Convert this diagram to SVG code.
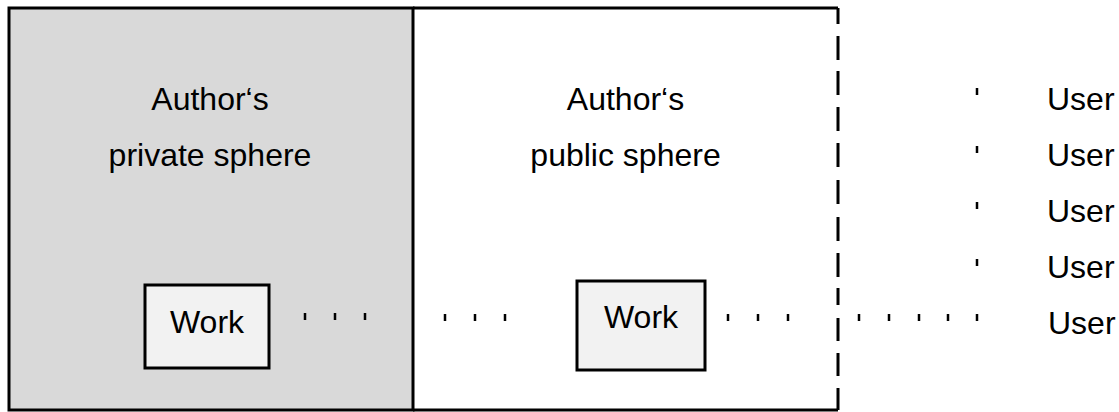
<svg xmlns="http://www.w3.org/2000/svg" width="1119" height="412" viewBox="0 0 1119 412">
<style>
.t{font-family:"Liberation Sans",Arial,sans-serif;font-size:32px;fill:#000}
.m{text-anchor:middle}
.edge{stroke:#000;stroke-width:3;fill:none}
.box{stroke:#000;stroke-width:3;fill:#f2f2f2}
.tick{stroke:#000;stroke-width:2.5;fill:none}
</style>
<rect width="1119" height="412" fill="#fff"/>
<g id="private-sphere">
<rect x="9" y="8" width="404" height="402" fill="#d9d9d9" stroke="#000" stroke-width="3"/>
<text class="t m" x="210" y="110">Author‘s</text>
<text class="t m" x="210" y="166">private sphere</text>
</g>
<g id="public-sphere">
<path class="edge" d="M413 8 H838 M413 410 H838"/>
<path class="edge" d="M838 8 V24 M838 36 V60 M838 71 V95 M838 107 V131 M838 143 V167 M838 180 V204 M838 217 V241 M838 253 V277 M838 288 V305 M838 318 V341 M838 353 V376 M838 388 V410"/>
<text class="t m" x="625.5" y="110">Author‘s</text>
<text class="t m" x="625.5" y="166">public sphere</text>
</g>
<g id="work-private">
<rect class="box" x="145" y="285" width="124" height="83"/>
<text class="t m" x="207" y="333">Work</text>
</g>
<g id="work-public">
<rect class="box" x="577" y="281" width="128" height="89"/>
<text class="t m" x="641" y="328">Work</text>
</g>
<g id="users">
<text class="t" x="1047" y="110">User</text>
<text class="t" x="1047" y="166">User</text>
<text class="t" x="1047" y="222">User</text>
<text class="t" x="1047" y="278">User</text>
<text class="t" x="1048" y="334">User</text>
</g>
<g id="connectors">
<path class="tick" d="M305 313 v7 M335 313 v7 M365 313 v7 M445 314 v7 M475 314 v7 M505 314 v7 M728 314 v7 M758 314 v7 M788 314 v7 M859 314 v7 M889 314 v7 M919 314 v7 M948 314 v7 M977 314 v7"/>
<path class="tick" d="M977 88 v7 M977 146 v7 M977 202 v7 M977 259 v7"/>
</g>
</svg>
